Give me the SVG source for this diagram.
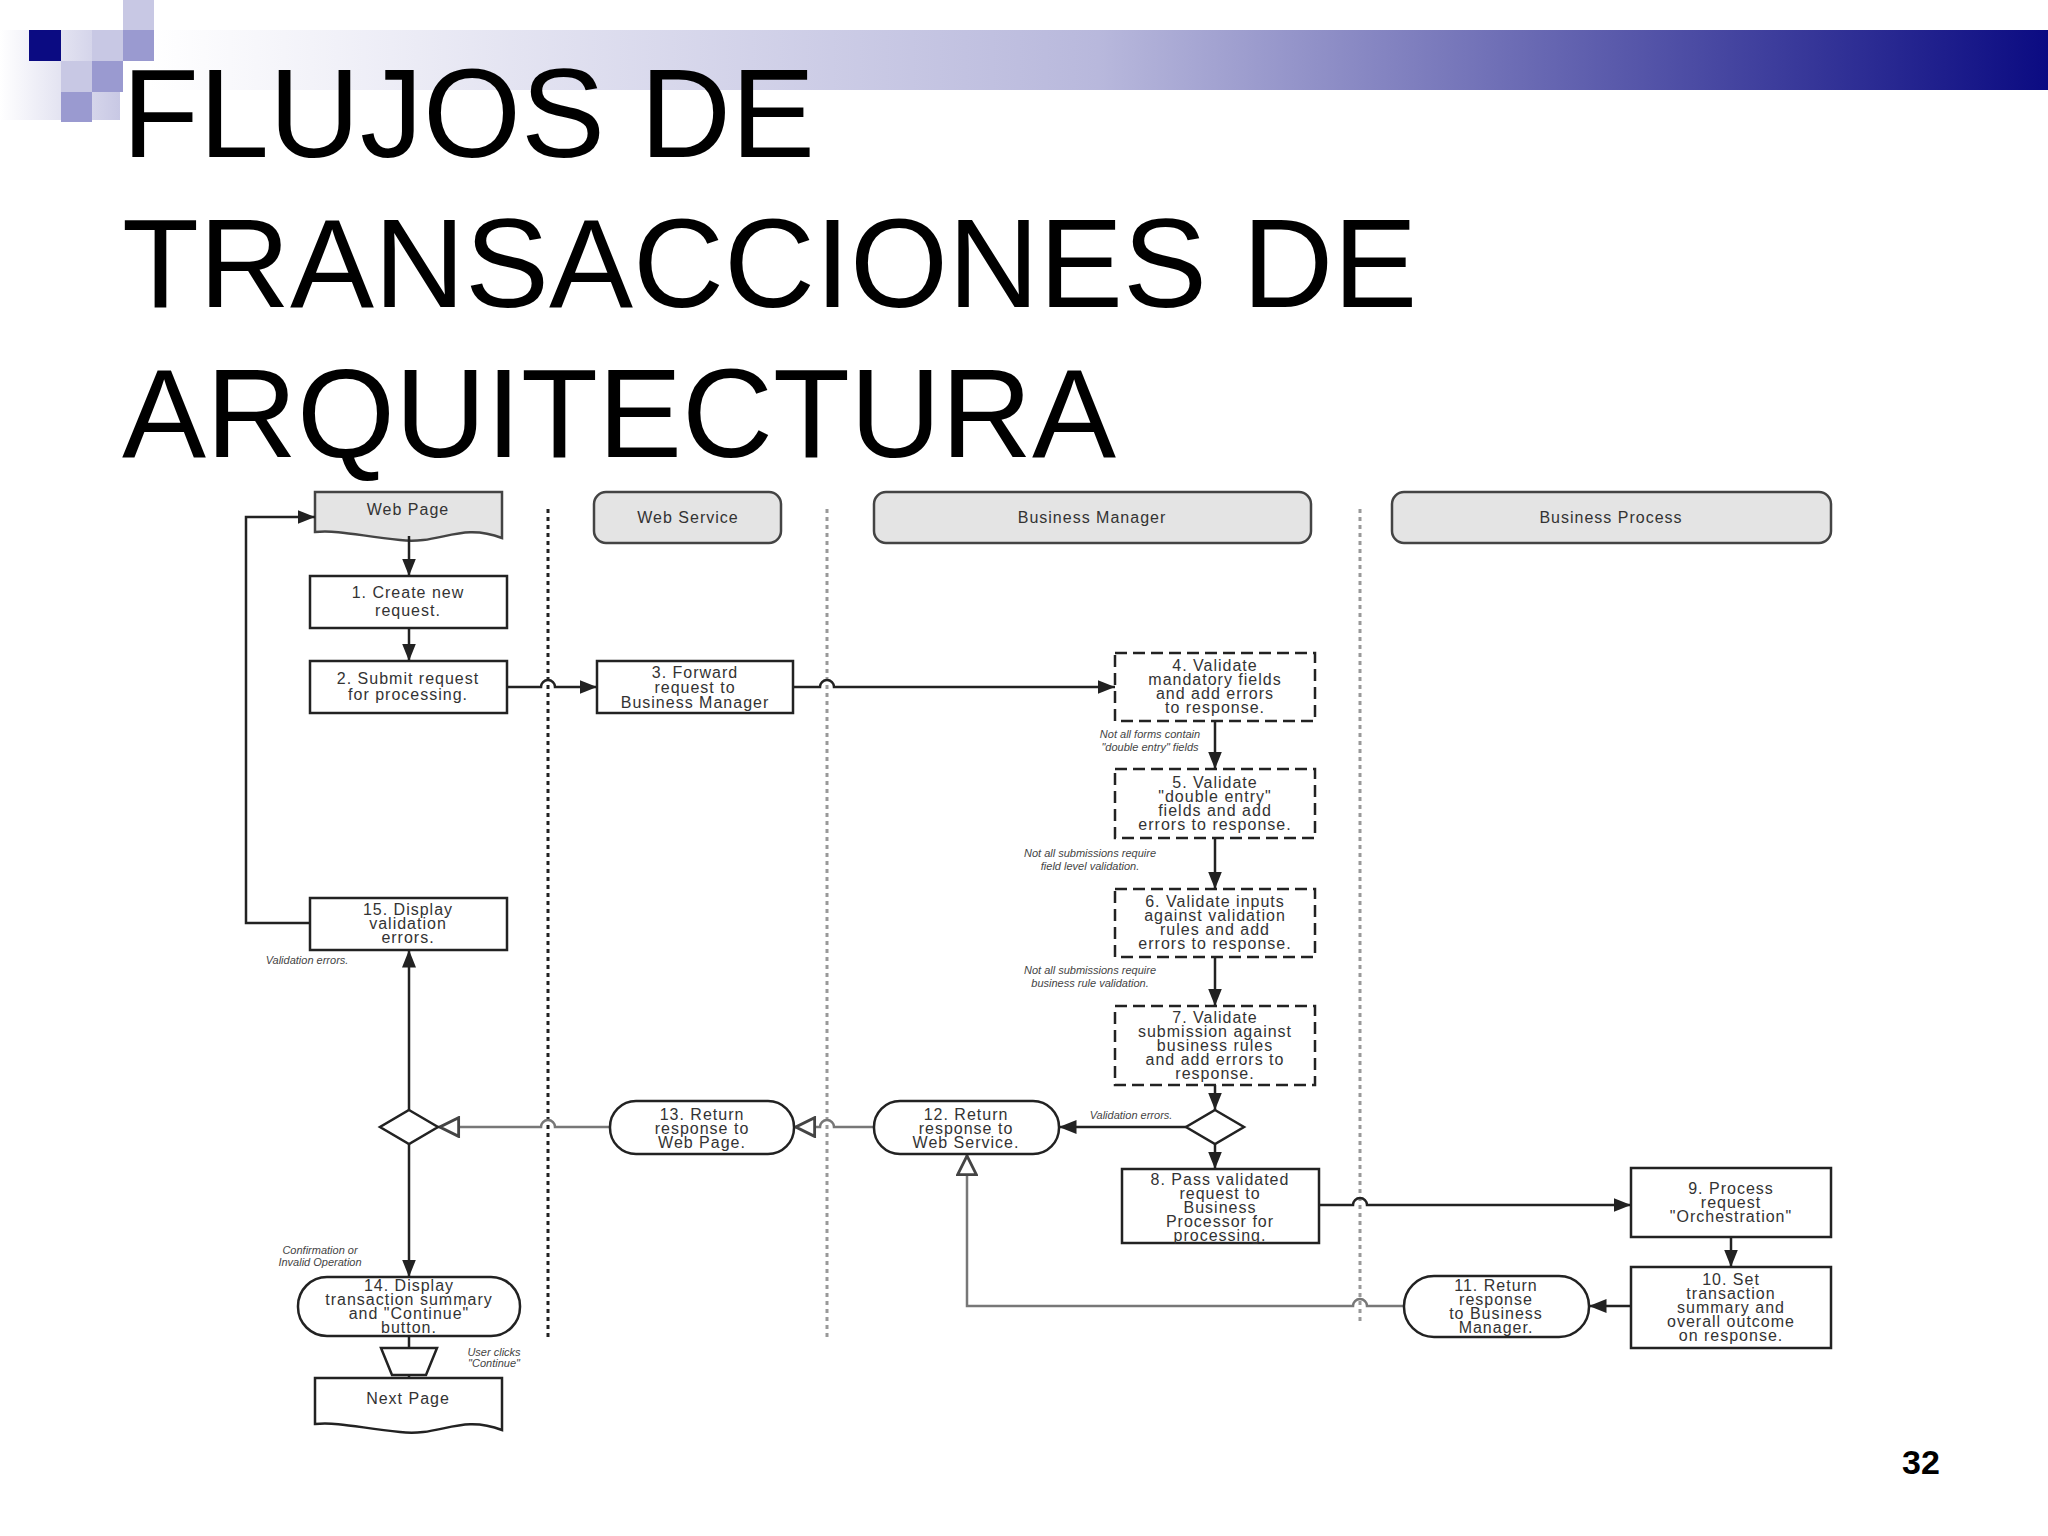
<svg xmlns="http://www.w3.org/2000/svg" width="2048" height="1536" viewBox="0 0 2048 1536">
<style>
.t{font-family:"Liberation Sans",Arial,sans-serif;font-size:16px;fill:#333;text-anchor:middle;letter-spacing:1px}
.s{font-family:"Liberation Sans",Arial,sans-serif;font-size:11px;fill:#444;font-style:italic;text-anchor:middle}
.b{fill:#fff;stroke:#222;stroke-width:2.5}
.d{fill:#fff;stroke:#222;stroke-width:2.5;stroke-dasharray:12 6}
.h{fill:#e4e4e4;stroke:#444;stroke-width:2.5}
.c{fill:none;stroke:#222;stroke-width:2.5}
.g{fill:none;stroke:#777;stroke-width:2.5}
</style>
<defs>
<linearGradient id="bg" x1="0" x2="1" y1="0" y2="0">
<stop offset="0" stop-color="#fff"/><stop offset="0.5" stop-color="#b8b8dc"/><stop offset="1" stop-color="#0b0b82"/>
</linearGradient>
<linearGradient id="lg" x1="0" x2="1"><stop offset="0" stop-color="#fff"/><stop offset="1" stop-color="#c8c8e4"/></linearGradient>
<marker id="a" viewBox="0 0 10 10" refX="10" refY="5" markerWidth="7" markerHeight="7" orient="auto-start-reverse"><path d="M0,1L10,5L0,9z" fill="#222"/></marker>
<marker id="o" viewBox="0 0 12 12" refX="12" refY="6" markerWidth="9" markerHeight="9" orient="auto"><path d="M1,1L11,6L1,11z" fill="#fff" stroke="#444" stroke-width="1.5"/></marker>
</defs>
<rect width="2048" height="1536" fill="#fff"/>
<g id="banner">
<rect x="0" y="30" width="120" height="90" fill="url(#lg)"/>
<rect x="150" y="30" width="1898" height="60" fill="url(#bg)"/>
<rect x="123" y="0" width="31" height="30" fill="#c8c8e4"/>
<rect x="92" y="30" width="31" height="31" fill="#c8c8e4"/>
<rect x="123" y="30" width="31" height="31" fill="#9a9ad0"/>
<rect x="29" y="30" width="32" height="31" fill="#0b0b82"/>
<rect x="61" y="61" width="31" height="31" fill="#c8c8e4"/>
<rect x="92" y="61" width="31" height="31" fill="#9a9ad0"/>
<rect x="61" y="92" width="31" height="30" fill="#9a9ad0"/>
</g>
<g id="title" font-family="Liberation Sans,Arial,sans-serif" font-size="126" fill="#000">
<text x="122" y="157">FLUJOS DE</text>
<text x="122" y="307">TRANSACCIONES DE</text>
<text x="122" y="457">ARQUITECTURA</text>
</g>
<text x="1902" y="1474" font-family="Liberation Sans,Arial,sans-serif" font-size="34" font-weight="bold">32</text>
<g id="lanes">
<line x1="548" y1="509" x2="548" y2="1339" stroke="#222" stroke-width="3" stroke-dasharray="4 4"/>
<line x1="827" y1="509" x2="827" y2="1339" stroke="#999" stroke-width="3" stroke-dasharray="4 4"/>
<line x1="1360" y1="509" x2="1360" y2="1325" stroke="#999" stroke-width="3" stroke-dasharray="4 4"/>
</g>
<g id="hdr-webpage"><path class="h" d="M315,492H502V538C460,522 440,545 400,540C360,536 340,530 315,532Z"/><text class="t" x="408" y="515">Web Page</text></g>
<g id="hdr-webservice"><rect class="h" x="594" y="492" width="187" height="51" rx="12"/><text class="t" x="688" y="523">Web Service</text></g>
<g id="hdr-bm"><rect class="h" x="874" y="492" width="437" height="51" rx="12"/><text class="t" x="1092" y="523">Business Manager</text></g>
<g id="hdr-bp"><rect class="h" x="1392" y="492" width="439" height="51" rx="12"/><text class="t" x="1611" y="523">Business Process</text></g>
<g id="connectors">
<line class="c" x1="409" y1="536" x2="409" y2="576" marker-end="url(#a)"/>
<line class="c" x1="409" y1="628" x2="409" y2="661" marker-end="url(#a)"/>
<path class="c" d="M507,687H541A7,7 0 0 1 555,687H597" marker-end="url(#a)"/>
<path class="c" d="M793,687H820A7,7 0 0 1 834,687H1115" marker-end="url(#a)"/>
<line class="c" x1="1215" y1="721" x2="1215" y2="769" marker-end="url(#a)"/>
<line class="c" x1="1215" y1="838" x2="1215" y2="889" marker-end="url(#a)"/>
<line class="c" x1="1215" y1="957" x2="1215" y2="1006" marker-end="url(#a)"/>
<line class="c" x1="1215" y1="1085" x2="1215" y2="1110" marker-end="url(#a)"/>
<line class="c" x1="1215" y1="1144" x2="1215" y2="1169" marker-end="url(#a)"/>
<line class="c" x1="1186" y1="1127" x2="1059" y2="1127" marker-end="url(#a)"/>
<path class="c" d="M1319,1205H1353A7,7 0 0 1 1367,1205H1631" marker-end="url(#a)"/>
<line class="c" x1="1731" y1="1237" x2="1731" y2="1267" marker-end="url(#a)"/>
<line class="c" x1="1631" y1="1306" x2="1589" y2="1306" marker-end="url(#a)"/>
<path class="g" d="M1404,1306H1367A7,7 0 0 0 1353,1306H967V1154" marker-end="url(#o)"/>
<path class="g" d="M874,1127H834A7,7 0 0 0 820,1127H794" marker-end="url(#o)"/>
<path class="g" d="M610,1127H555A7,7 0 0 0 541,1127H438" marker-end="url(#o)"/>
<line class="c" x1="409" y1="1110" x2="409" y2="950" marker-end="url(#a)"/>
<line class="c" x1="409" y1="1144" x2="409" y2="1277" marker-end="url(#a)"/>
<line class="c" x1="409" y1="1336" x2="409" y2="1348"/>
<line class="c" x1="409" y1="1375" x2="409" y2="1378" marker-end="url(#a)"/>
<path class="c" d="M310,923H246V517H315" marker-end="url(#a)"/>
</g>
<g id="n1"><rect class="b" x="310" y="576" width="197" height="52"/><text class="t" x="408" y="598">1. Create new</text><text class="t" x="408" y="616">request.</text></g>
<g id="n2"><rect class="b" x="310" y="661" width="197" height="52"/><text class="t" x="408" y="684">2. Submit request</text><text class="t" x="408" y="700">for processing.</text></g>
<g id="n3"><rect class="b" x="597" y="661" width="196" height="52"/><text class="t" x="695" y="678">3. Forward</text><text class="t" x="695" y="693">request to</text><text class="t" x="695" y="708">Business Manager</text></g>
<g id="n4"><rect class="d" x="1115" y="653" width="200" height="68"/><text class="t" x="1215" y="671">4. Validate</text><text class="t" x="1215" y="685">mandatory fields</text><text class="t" x="1215" y="699">and add errors</text><text class="t" x="1215" y="713">to response.</text></g>
<g id="n5"><rect class="d" x="1115" y="769" width="200" height="69"/><text class="t" x="1215" y="788">5. Validate</text><text class="t" x="1215" y="802">"double entry"</text><text class="t" x="1215" y="816">fields and add</text><text class="t" x="1215" y="830">errors to response.</text></g>
<g id="n6"><rect class="d" x="1115" y="889" width="200" height="68"/><text class="t" x="1215" y="907">6. Validate inputs</text><text class="t" x="1215" y="921">against validation</text><text class="t" x="1215" y="935">rules and add</text><text class="t" x="1215" y="949">errors to response.</text></g>
<g id="n7"><rect class="d" x="1115" y="1006" width="200" height="79"/><text class="t" x="1215" y="1023">7. Validate</text><text class="t" x="1215" y="1037">submission against</text><text class="t" x="1215" y="1051">business rules</text><text class="t" x="1215" y="1065">and add errors to</text><text class="t" x="1215" y="1079">response.</text></g>
<g id="dmR"><path class="b" d="M1215,1110L1244,1127L1215,1144L1186,1127Z" stroke-width="2"/></g>
<g id="n8"><rect class="b" x="1122" y="1169" width="197" height="74"/><text class="t" x="1220" y="1185">8. Pass validated</text><text class="t" x="1220" y="1199">request to</text><text class="t" x="1220" y="1213">Business</text><text class="t" x="1220" y="1227">Processor for</text><text class="t" x="1220" y="1241">processing.</text></g>
<g id="n9"><rect class="b" x="1631" y="1168" width="200" height="69"/><text class="t" x="1731" y="1194">9. Process</text><text class="t" x="1731" y="1208">request</text><text class="t" x="1731" y="1222">"Orchestration"</text></g>
<g id="n10"><rect class="b" x="1631" y="1267" width="200" height="81"/><text class="t" x="1731" y="1285">10. Set</text><text class="t" x="1731" y="1299">transaction</text><text class="t" x="1731" y="1313">summary and</text><text class="t" x="1731" y="1327">overall outcome</text><text class="t" x="1731" y="1341">on response.</text></g>
<g id="n11"><rect class="b" x="1404" y="1276" width="185" height="61" rx="30" stroke-width="2"/><text class="t" x="1496" y="1291">11. Return</text><text class="t" x="1496" y="1305">response</text><text class="t" x="1496" y="1319">to Business</text><text class="t" x="1496" y="1333">Manager.</text></g>
<g id="n12"><rect class="b" x="874" y="1101" width="185" height="53" rx="26" stroke-width="2"/><text class="t" x="966" y="1120">12. Return</text><text class="t" x="966" y="1134">response to</text><text class="t" x="966" y="1148">Web Service.</text></g>
<g id="n13"><rect class="b" x="610" y="1101" width="184" height="53" rx="26" stroke-width="2"/><text class="t" x="702" y="1120">13. Return</text><text class="t" x="702" y="1134">response to</text><text class="t" x="702" y="1148">Web Page.</text></g>
<g id="dmL"><path class="b" d="M409,1110L438,1127L409,1144L380,1127Z" stroke-width="2"/></g>
<g id="n15"><rect class="b" x="310" y="898" width="197" height="52"/><text class="t" x="408" y="915">15. Display</text><text class="t" x="408" y="929">validation</text><text class="t" x="408" y="943">errors.</text></g>
<g id="n14"><rect class="b" x="298" y="1277" width="222" height="59" rx="29" stroke-width="2"/><text class="t" x="409" y="1291">14. Display</text><text class="t" x="409" y="1305">transaction summary</text><text class="t" x="409" y="1319">and "Continue"</text><text class="t" x="409" y="1333">button.</text></g>
<g id="manual"><path class="b" d="M381,1348H437L426,1375H392Z" stroke-width="2"/></g>
<g id="next"><path class="b" stroke-width="2" d="M315,1378H502V1430C460,1414 440,1437 400,1432C360,1428 340,1422 315,1424Z"/><text class="t" x="408" y="1404">Next Page</text></g>
<g id="labels">
<text class="s" x="1150" y="738">Not all forms contain</text><text class="s" x="1150" y="751">"double entry" fields</text>
<text class="s" x="1090" y="857">Not all submissions require</text><text class="s" x="1090" y="870">field level validation.</text>
<text class="s" x="1090" y="974">Not all submissions require</text><text class="s" x="1090" y="987">business rule validation.</text>
<text class="s" x="307" y="964">Validation errors.</text>
<text class="s" x="1131" y="1119">Validation errors.</text>
<text class="s" x="320" y="1254">Confirmation or</text><text class="s" x="320" y="1266">Invalid Operation</text>
<text class="s" x="494" y="1356">User clicks</text><text class="s" x="494" y="1367">"Continue"</text>
</g>
</svg>
